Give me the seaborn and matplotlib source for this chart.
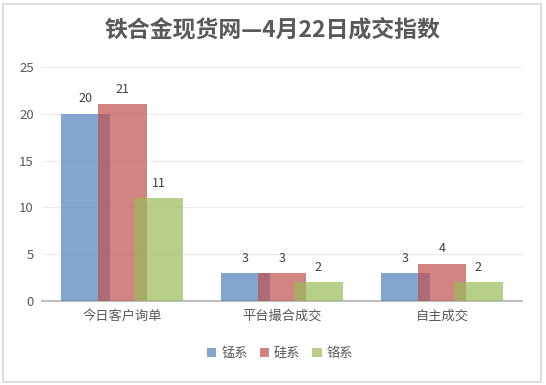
import matplotlib
matplotlib.use("Agg")
import matplotlib.pyplot as plt
import matplotlib.patches as mpatches
import seaborn as sns
import pandas as pd

categories = ["今日客户询单", "平台撮合成交", "自主成交"]
series_names = ["锰系", "硅系", "铬系"]
mn_values = [20, 3, 3]
si_values = [21, 3, 4]
cr_values = [11, 2, 2]
y_ticks = [0, 5, 10, 15, 20, 25]
title = "铁合金现货网—4月22日成交指数"

colors = ["#4F81BD", "#C0504D", "#9BBB59"]

rows = []
for name, vals in zip(series_names, [mn_values, si_values, cr_values]):
    for c, v in zip(categories, vals):
        rows.append({"cat": c, "series": name, "value": v})
df = pd.DataFrame(rows)

sns.set_theme(style="white")
plt.rcParams["font.family"] = ["Noto Sans CJK SC", "DejaVu Sans"]

fig = plt.figure(figsize=(5.46, 3.85), dpi=100)
ax = fig.add_axes([0.077, 0.218, 0.879, 0.608])

offset = 0.228
bar_w = 0.306
sns.barplot(data=df, x="cat", y="value", hue="series", order=categories,
            hue_order=series_names, palette=colors, width=3 * offset,
            dodge=True, alpha=0.7, saturation=1, ax=ax, legend=False,
            errorbar=None, linewidth=0, edgecolor="none", zorder=3)

for p in ax.patches:
    cx = p.get_x() + p.get_width() / 2
    p.set_width(bar_w)
    p.set_x(cx - bar_w / 2)
    p.set_edgecolor("none")
    p.set_linewidth(0)

for p in ax.patches:
    h = p.get_height()
    ax.text(p.get_x() + p.get_width() / 2, h + 0.9, f"{int(h)}",
            ha="center", va="bottom", fontsize=9, color="#404040", zorder=5)

ax.set_xlim(-0.5, 2.5)
ax.set_ylim(0, 25)
ax.set_yticks(y_ticks)
ax.set_yticklabels([str(t) for t in y_ticks])
ax.yaxis.grid(True, color="#EBEBEB", linewidth=0.8, zorder=0)
ax.set_axisbelow(True)
ax.set_xlabel("")
ax.set_ylabel("")
for s in ["left", "right", "top"]:
    ax.spines[s].set_visible(False)
ax.spines["bottom"].set_color("#BFBFBF")
ax.spines["bottom"].set_linewidth(1.5)
ax.tick_params(axis="both", length=0, labelsize=9.5, colors="#595959", pad=6)

fig.text(0.5, 0.922, title, ha="center", va="center", fontsize=16.5,
         fontweight="bold", color="#595959")

handles = [mpatches.Patch(facecolor=c, edgecolor="none", alpha=0.7, label=n)
           for c, n in zip(colors, series_names)]
fig.legend(handles=handles, loc="center", bbox_to_anchor=(0.513, 0.082), ncol=3,
           frameon=False, fontsize=9.5, handlelength=0.7, handleheight=0.7,
           handletextpad=0.4, columnspacing=0.9, labelcolor="#595959")

fig.add_artist(mpatches.Rectangle((0.006, 0.008), 0.985, 0.982, transform=fig.transFigure,
                                  fill=False, edgecolor="#D9D9D9", linewidth=1.2))

fig.savefig("out.png", dpi=100)
